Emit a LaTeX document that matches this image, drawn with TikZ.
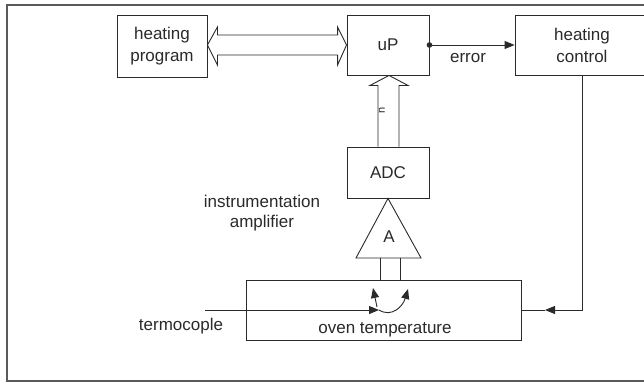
\documentclass[tikz,border=0pt]{standalone}
\usepackage{fontspec}
\setmainfont{Liberation Sans}
\usetikzlibrary{arrows.meta,calc}
\definecolor{ink}{HTML}{2A2A2A}
\definecolor{framec}{HTML}{5A5A5A}
\newcommand\diafont{\fontsize{17}{22}\selectfont}
\begin{document}
\begin{tikzpicture}[x=1pt,y=-1pt, line width=0.9pt, draw=ink, text=ink,
  box/.style={draw=ink, rectangle, inner sep=0pt, align=center, font=\diafont},
  lbl/.style={font=\diafont, text=ink, inner sep=0pt, align=center},
  tip/.style={-{Triangle[length=10pt,width=8pt]}}]
\useasboundingbox (0,0) rectangle (644,388);
\clip (0,0) rectangle (644,388);
\fill[white] (0,0) rectangle (644,388);
% frame (right side runs off the page)
\draw[draw=framec, line width=1.1pt] (7,5) rectangle (700,381);

% blocks
\node[box, minimum width=90pt, minimum height=62pt] (hp) at (162,46) {heating\\program};
\node[box, minimum width=82pt, minimum height=60pt] (up) at (388,45) {uP};
\node[box, minimum width=134pt, minimum height=60pt] (hc) at (582,45) {heating\\control};
\node[box, minimum width=82pt, minimum height=51pt] (adc) at (388,172.5) {ADC};
\node[box, minimum width=275pt, minimum height=60pt] (oven) at (383.5,310) {};
\node[lbl] (ovenlbl) at (385,330) {oven temperature};

% amplifier triangle
\coordinate (ampL) at (356,258);
\coordinate (ampR) at (421,258);
\draw (adc.south) -- (ampR) -- (ampL) -- cycle;
\node[lbl] (ampA) at (389,237) {A};
\node[lbl] (ampname) at (262,213) {instrumentation\\[-2pt]amplifier};

% amplifier inputs
\coordinate (legL) at (380,258);
\coordinate (legR) at (400,258);
\draw (legL) -- (legL |- oven.north);
\draw (legR) -- (legR |- oven.north);

% bus arrow heating program <-> uP
\coordinate (L) at (hp.east |- up.west);
\coordinate (R) at (up.west);
\draw (L) -- ($(L)+(10,-18)$) -- ($(L)+(10,-10)$) -- ($(R)+(-9,-10)$) -- ($(R)+(-9,-18)$)
  -- (R) -- ($(R)+(-9,20)$) -- ($(R)+(-9,10)$) -- ($(L)+(10,10)$) -- ($(L)+(10,20)$) -- cycle;

% bus arrow ADC -> uP
\coordinate (bt) at ($(up.south)+(1,0)$);
\draw ($(adc.north)+(-10,0)$) -- ($(bt)+(-11,10)$) -- ($(bt)+(-19,10)$) -- (bt)
  -- ($(bt)+(19,10)$) -- ($(bt)+(10,10)$) -- ($(adc.north)+(11,0)$);
\node[lbl, font=\fontsize{11}{11}\selectfont, rotate=90] (nlbl) at (382,110) {n};

% error signal
\fill[ink] (up.east) circle (2.8pt);
\draw[tip] (up.east) -- (hc.west);
\node[lbl] (errlbl) at (468,58) {error};

% heating control feedback
\coordinate (fbk) at (545,310);
\draw[tip] (hc.south) |- (fbk);
\draw (fbk) -- (oven.east);

% thermocouple
\coordinate (tcin) at (205,310);
\coordinate (jn) at (379,310);
\coordinate (jl) at (373,288);
\coordinate (jr) at (408,289);
\draw[tip] (tcin) -- (jn);
\draw[tip] (jn) .. controls (392,318) and (403,306) .. (jr);
\draw[tip] ($(jn)+(-2,-3)$) -- (jl);
\node[lbl] (tclbl) at (181,326) {termocople};
\end{tikzpicture}
\end{document}
